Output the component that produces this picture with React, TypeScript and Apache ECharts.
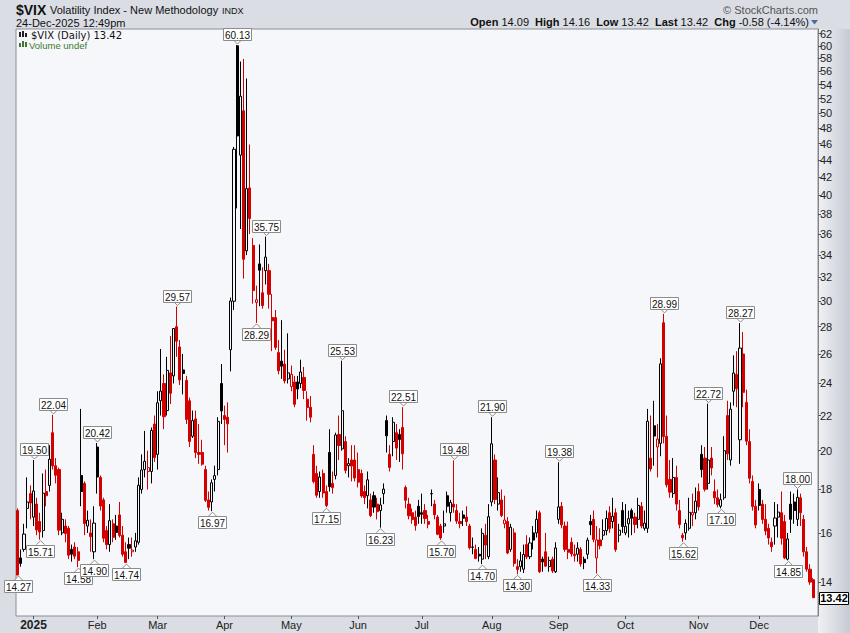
import React, { useEffect, useRef } from 'react';
import * as echarts from 'echarts';

// ---------- data ----------
const startDates = ['2024-12-24', '2024-12-26', '2024-12-27', '2024-12-30', '2024-12-31'];
const holidays2025 = ['2025-01-01', '2025-01-09', '2025-01-20', '2025-02-17', '2025-04-18', '2025-05-26', '2025-06-19', '2025-07-04', '2025-09-01', '2025-11-27'];
const prevCloseBeforeStart = 16.78;

const opens = [
  17.0, 14.95, 15.3, 17.1, 17.8, 16.7, 17.3, 16.5, 16.1, 17.9,
  18.2, 21.0, 19.2, 19.0, 16.0, 16.3, 16.2, 15.3, 15.4, 15.2,
  18.7, 18.3, 16.3, 16.0, 15.2, 20.2, 18.6, 17.5, 16.1, 15.5,
  16.4, 16.3, 16.8, 15.9, 15.2, 15.5, 15.2, 15.4, 15.6, 18.0,
  19.0, 18.9, 18.9, 21.5, 19.8, 22.9, 24.0, 22.3, 24.7, 24.5,
  28.0, 26.5, 24.9, 24.2, 22.9, 20.8, 21.8, 19.9, 19.9, 19.0,
  17.5, 17.4, 18.5, 19.0, 24.0, 22.0, 21.9, 26.3, 30.0, 60.0,
  44.6, 50.3, 34.4, 40.8, 34.9, 29.9, 33.2, 30.7, 32.6, 32.6,
  28.7, 28.7, 26.1, 25.5, 25.3, 24.3, 23.8, 24.1, 24.1, 24.0,
  24.4, 23.0, 22.5, 19.8, 18.8, 17.9, 18.8, 17.9, 19.9, 18.3,
  18.7, 20.9, 20.1, 20.5, 19.2, 19.5, 19.5, 19.0, 18.8, 17.9,
  17.7, 17.5, 17.7, 17.3, 17.0, 17.8, 21.7, 19.8, 20.5, 21.0,
  20.9, 21.3, 18.1, 17.3, 16.9, 16.7, 17.2, 16.9, 17.0, 16.5,
  17.8, 17.3, 16.7, 16.3, 16.3, 17.7, 16.9, 17.3, 17.0, 16.5,
  16.8, 16.7, 16.3, 15.4, 15.3, 15.1, 14.9, 15.9, 15.0, 17.4,
  19.5, 17.3, 17.5, 16.4, 16.5, 15.3, 16.0, 14.6, 14.6, 14.5,
  15.5, 15.0, 16.0, 16.0, 16.9, 14.9, 15.2, 14.6, 14.9, 14.4,
  16.6, 17.2, 16.3, 15.3, 15.6, 15.1, 15.1, 15.3, 14.9, 15.1,
  16.5, 16.6, 14.95, 15.7, 15.9, 16.1, 16.9, 16.5, 16.9, 15.9,
  17.0, 16.0, 16.4, 17.0, 16.7, 16.6, 17.2, 16.2, 16.2, 19.6,
  21.4, 20.2, 20.4, 28.3, 20.8, 18.5, 17.8, 18.6, 17.0, 15.9,
  16.0, 16.2, 16.8, 16.9, 17.9, 19.8, 19.6, 18.3, 19.6, 17.9,
  17.6, 17.2, 17.6, 22.0, 19.5, 23.5, 24.6, 20.6, 26.0, 22.8,
  20.5, 18.4, 17.2, 18.0, 17.3, 16.6, 16.2, 15.6, 16.3, 16.7,
  16.9, 16.5, 14.9, 17.3, 17.4, 16.6, 17.6, 16.6, 15.2, 14.5,
  14.09,
];
const highs = [
  17.1, 15.3, 16.4, 18.6, 18.2, 19.5, 17.6, 16.9, 18.8, 19.0,
  20.3, 22.04, 19.6, 19.1, 16.9, 16.6, 16.3, 15.5, 15.6, 15.4,
  22.4, 18.4, 17.0, 16.6, 17.2, 20.42, 18.7, 17.6, 16.3, 17.3,
  16.6, 16.8, 17.4, 16.3, 15.6, 15.8, 15.8, 16.0, 18.6, 19.8,
  21.1, 20.0, 21.3, 22.0, 23.5, 26.35, 24.6, 25.8, 27.3, 27.9,
  29.57, 27.0, 26.0, 24.5, 23.1, 22.3, 22.3, 21.5, 20.6, 19.2,
  17.9, 18.5, 19.2, 21.9, 25.3, 22.6, 22.8, 30.3, 45.6, 60.13,
  57.5, 57.9, 54.9, 45.9, 35.6, 31.3, 35.0, 32.9, 35.75, 33.2,
  30.6, 29.3, 27.0, 28.5, 26.3, 27.5, 25.2, 24.5, 24.5, 25.6,
  25.1, 23.5, 23.2, 20.3, 19.2, 18.9, 19.0, 18.2, 21.2, 18.9,
  21.0, 22.0, 25.53, 20.8, 19.6, 20.3, 20.3, 19.9, 19.0, 18.2,
  18.9, 17.8, 17.9, 17.6, 17.6, 18.3, 22.0, 20.3, 21.9, 21.5,
  21.2, 22.51, 18.2, 17.6, 17.1, 17.0, 17.5, 17.8, 17.3, 16.8,
  18.0, 17.5, 16.8, 16.4, 17.0, 17.9, 17.5, 19.48, 17.3, 16.9,
  17.0, 17.2, 16.4, 15.8, 15.5, 15.4, 16.2, 16.4, 17.3, 21.9,
  19.8, 18.6, 18.0, 17.7, 16.7, 16.4, 16.2, 14.9, 15.2, 15.5,
  15.9, 15.8, 16.3, 17.0, 17.0, 15.0, 16.0, 15.0, 15.0, 15.6,
  19.38, 17.4, 16.5, 16.5, 15.8, 15.5, 15.6, 15.4, 15.0, 15.8,
  16.8, 17.0, 16.3, 16.2, 16.6, 17.0, 17.2, 17.6, 17.1, 16.4,
  17.4, 17.3, 17.0, 17.1, 16.9, 17.6, 17.4, 17.0, 22.4, 22.0,
  22.9, 21.5, 25.7, 28.99, 22.0, 19.5, 19.6, 19.2, 17.5, 16.0,
  16.6, 17.6, 17.8, 18.1, 18.3, 20.3, 20.2, 22.72, 20.2, 18.5,
  18.0, 17.8, 20.8, 22.9, 22.8, 25.9, 26.2, 28.27, 27.6, 23.6,
  21.2, 18.7, 17.5, 18.3, 17.5, 17.3, 16.4, 15.8, 17.4, 17.3,
  17.9, 16.8, 16.0, 17.9, 17.8, 18.0, 17.8, 16.8, 15.4, 14.7,
  14.16,
];
const lows = [
  14.27, 14.6, 15.2, 16.2, 16.6, 16.3, 15.9, 15.71, 15.8, 17.2,
  17.9, 19.0, 18.3, 15.9, 15.9, 15.6, 14.9, 14.8, 14.9, 14.58,
  17.2, 15.9, 16.0, 15.2, 14.9, 17.8, 17.0, 15.6, 15.3, 15.2,
  15.6, 15.7, 15.8, 15.0, 14.74, 14.9, 15.0, 15.2, 15.5, 17.8,
  18.6, 18.0, 18.3, 19.4, 19.0, 22.0, 21.2, 22.0, 22.7, 24.0,
  25.8, 23.9, 23.3, 21.5, 20.2, 20.7, 19.6, 19.3, 19.2, 17.4,
  17.0, 16.97, 17.9, 18.7, 21.5, 20.3, 19.9, 24.8, 29.3, 38.6,
  36.5, 31.9, 34.0, 36.0, 29.8, 28.29, 29.6, 29.4, 31.4, 29.4,
  26.2, 26.3, 24.6, 24.3, 24.0, 24.0, 23.5, 22.5, 23.0, 23.7,
  23.0, 21.7, 21.6, 18.3, 17.6, 17.6, 17.6, 17.15, 17.9, 17.8,
  18.5, 19.5, 20.0, 18.8, 18.6, 18.4, 18.4, 18.1, 17.6, 17.3,
  17.1, 16.7, 16.9, 16.6, 16.23, 17.3, 19.9, 18.9, 19.7, 19.5,
  19.4, 19.0, 17.1, 16.6, 16.4, 16.1, 16.4, 16.4, 16.4, 16.2,
  17.2, 16.6, 15.9, 15.7, 16.0, 16.9, 16.5, 16.9, 16.4, 16.2,
  16.3, 16.3, 15.3, 15.1, 14.9, 14.8, 14.7, 14.9, 14.9, 17.2,
  17.3, 17.0, 16.7, 16.2, 15.1, 15.2, 14.6, 14.3, 14.4, 14.35,
  14.9, 14.9, 15.3, 15.8, 14.35, 14.4, 14.6, 14.4, 14.35, 14.35,
  16.4, 16.2, 15.2, 14.9, 15.0, 14.8, 14.8, 14.6, 14.5, 14.9,
  15.9, 15.6, 14.33, 15.3, 15.7, 15.9, 16.0, 16.2, 15.2, 15.6,
  16.0, 15.9, 15.8, 15.9, 16.0, 16.2, 16.2, 16.1, 16.0, 18.9,
  19.2, 18.6, 19.7, 20.4, 18.1, 17.6, 17.6, 17.0, 16.2, 15.62,
  15.7, 16.1, 16.3, 16.6, 17.0, 18.6, 17.9, 18.0, 18.7, 17.3,
  17.15, 17.1, 17.5, 19.5, 19.2, 22.6, 22.5, 19.3, 22.5, 20.3,
  18.3, 17.0, 16.2, 17.0, 16.4, 15.9, 15.5, 15.2, 15.5, 15.8,
  15.5, 14.9, 14.85, 16.0, 16.4, 16.3, 16.3, 15.0, 14.4, 13.9,
  13.42,
];
const closes = [
  14.27, 14.73, 15.95, 17.40, 17.35, 17.93, 16.13, 16.04, 17.82, 17.70,
  19.54, 19.19, 18.71, 16.12, 16.60, 15.97, 15.06, 15.10, 15.02, 14.85,
  17.90, 16.41, 16.56, 15.84, 16.43, 18.62, 17.21, 15.77, 15.50, 16.54,
  15.81, 16.02, 15.89, 15.10, 14.77, 15.35, 15.27, 15.66, 18.21, 18.98,
  19.43, 19.10, 21.13, 19.63, 22.78, 23.51, 21.93, 24.87, 23.37, 27.86,
  26.92, 24.23, 24.66, 21.77, 20.51, 21.70, 19.90, 19.80, 19.28, 17.48,
  17.15, 18.33, 18.69, 21.65, 22.28, 21.77, 21.51, 30.02, 45.31, 46.98,
  52.33, 33.62, 40.72, 37.56, 30.89, 30.12, 32.64, 29.65, 33.82, 30.57,
  28.45, 26.47, 24.84, 25.15, 24.17, 24.70, 24.60, 22.68, 23.64, 24.76,
  23.55, 22.48, 21.90, 18.39, 17.72, 18.62, 17.83, 17.24, 18.14, 18.09,
  20.87, 20.28, 22.29, 18.96, 19.31, 19.18, 18.57, 18.36, 17.69, 17.61,
  18.48, 16.77, 17.16, 16.95, 17.26, 18.02, 20.82, 19.11, 21.60, 20.14,
  20.62, 19.83, 17.48, 16.76, 16.59, 16.32, 16.73, 16.83, 16.64, 16.38,
  17.79, 16.81, 15.94, 15.78, 16.40, 17.20, 17.38, 17.16, 16.52, 16.41,
  16.65, 16.50, 15.37, 15.39, 14.93, 15.03, 15.98, 15.48, 16.72, 20.38,
  17.52, 17.85, 16.77, 16.57, 15.15, 16.25, 14.73, 14.49, 14.83, 15.09,
  14.99, 15.57, 15.69, 16.60, 14.40, 14.79, 14.62, 14.85, 14.43, 15.36,
  17.17, 16.35, 15.30, 15.18, 15.11, 15.04, 15.35, 14.71, 14.76, 15.69,
  16.36, 15.72, 15.70, 15.45, 16.10, 16.64, 16.18, 16.74, 15.29, 16.12,
  16.28, 16.29, 16.63, 16.65, 16.37, 17.24, 16.30, 16.43, 21.66, 19.03,
  20.81, 20.64, 25.31, 20.78, 18.23, 17.87, 18.60, 17.30, 16.37, 15.79,
  16.42, 16.92, 16.91, 17.44, 17.17, 19.00, 18.01, 19.50, 19.08, 17.60,
  17.28, 17.51, 20.00, 19.83, 22.38, 24.69, 23.66, 26.42, 23.43, 20.52,
  18.56, 17.19, 16.35, 17.24, 16.59, 16.08, 15.78, 15.41, 16.66, 16.93,
  15.77, 14.95, 15.74, 16.60, 17.00, 17.62, 16.90, 15.20, 14.50, 14.00,
  13.42,
];

// swing labels: index, value, +1 = high (box above), -1 = low (box below)
const peakIndex = [5, 11, 25, 50, 69, 78, 102, 121, 137, 149, 170, 203, 217, 227, 245,
  0, 7, 19, 24, 34, 61, 75, 97, 114, 133, 146, 157, 182, 209, 221, 242];
const peakValue = [19.5, 22.04, 20.42, 29.57, 60.13, 35.75, 25.53, 22.51, 19.48, 21.9, 19.38, 28.99, 22.72, 28.27, 18.0,
  14.27, 15.71, 14.58, 14.9, 14.74, 16.97, 28.29, 17.15, 16.23, 15.7, 14.7, 14.3, 14.33, 15.62, 17.1, 14.85];
const peakSide = [1, 1, 1, 1, 1, 1, 1, 1, 1, 1, 1, 1, 1, 1, 1,
  -1, -1, -1, -1, -1, -1, -1, -1, -1, -1, -1, -1, -1, -1, -1, -1];

const yTickValues = [14, 16, 18, 20, 22, 24, 26, 28, 30, 32, 34, 36, 38, 40, 42, 44, 46, 48, 50, 52, 54, 56, 58, 60, 62];
const yMinValue = 12.77;
const yMaxValue = 62.8;
const lastValue = 13.42;
const monthNames = ['Jan', 'Feb', 'Mar', 'Apr', 'May', 'Jun', 'Jul', 'Aug', 'Sep', 'Oct', 'Nov', 'Dec'];

function buildDates(): string[] {
  const out = [...startDates];
  const d = new Date(Date.UTC(2025, 0, 1));
  const end = Date.UTC(2025, 11, 24);
  while (d.getTime() <= end) {
    const wd = d.getUTCDay();
    const s = d.toISOString().slice(0, 10);
    if (wd !== 0 && wd !== 6 && holidays2025.indexOf(s) < 0) out.push(s);
    d.setUTCDate(d.getUTCDate() + 1);
  }
  return out;
}

const RED = '#d40000';
const BLACK = '#000000';
const PLOT_BG = '#f6f7fa';
const FONT = '"Liberation Sans", Arial, sans-serif';

export default function App() {
  const ref = useRef<HTMLDivElement>(null);
  useEffect(() => {
    if (!ref.current) return;
    const chart = echarts.init(ref.current, undefined, { renderer: 'svg' });
    const dates = buildDates();
    const cats = [...dates, ''];
    const monthStart = new Set<number>();
    for (let i = 1; i < dates.length; i++) {
      if (dates[i].slice(5, 7) !== dates[i - 1].slice(5, 7)) monthStart.add(i);
    }
    const L = Math.log;
    const candleData = closes.map((c, i) => {
      const o = opens[i];
      const prev = i > 0 ? closes[i - 1] : prevCloseBeforeStart;
      const col = c >= prev ? BLACK : RED;
      const hollow = c > o;
      const fill = hollow ? PLOT_BG : col;
      return {
        value: [L(o), L(c), L(lows[i]), L(highs[i])],
        itemStyle: { color: fill, color0: fill, borderColor: col, borderColor0: col },
      };
    });
    const peakData = peakIndex.map((idx, k) => [idx, L(peakValue[k]), peakSide[k]]);

    const option: any = {
      animation: false,
      backgroundColor: '#dadde4',
      textStyle: { fontFamily: FONT },
      grid: {
        left: 16, right: 32, top: 29, bottom: 17, show: true,
        backgroundColor: PLOT_BG, borderColor: '#8a8d96', borderWidth: 1,
      },
      xAxis: {
        type: 'category', data: cats, boundaryGap: true,
        axisLine: { show: false },
        axisTick: { show: true, alignWithLabel: true, interval: (i: number) => monthStart.has(i), length: 3, lineStyle: { color: '#555' } },
        axisLabel: {
          interval: (i: number) => monthStart.has(i),
          margin: 3, color: '#222', fontSize: 11, fontFamily: FONT,
          formatter: (v: string) => {
            if (!v) return '';
            const m = parseInt(v.slice(5, 7), 10) - 1;
            if (m === 0) return '{y|' + v.slice(0, 4) + '}';
            return monthNames[m];
          },
          rich: { y: { fontWeight: 'bold', fontSize: 12, color: '#222', fontFamily: FONT } },
        },
        splitLine: { show: false },
      },
      yAxis: {
        type: 'value', position: 'right', min: L(yMinValue), max: L(yMaxValue),
        splitLine: { show: false },
        axisLine: { show: true, lineStyle: { color: '#777', type: 'dotted' } },
        axisTick: { show: true, customValues: yTickValues.map(L), length: 3, lineStyle: { color: '#555' } },
        axisLabel: {
          customValues: yTickValues.map(L), margin: 2, color: '#222', fontSize: 11, fontFamily: FONT,
          formatter: (v: number) => String(Math.round(Math.exp(v))),
        },
      },
      series: [
        {
          type: 'candlestick', data: candleData, barWidth: 2.6,
          itemStyle: { borderWidth: 1 },
        },
        {
          type: 'custom', data: peakData, clip: false, silent: true, z: 10,
          renderItem: (params: any, api: any) => {
            const idx = api.value(0);
            const lv = api.value(1);
            const side = api.value(2);
            const p = api.coord([idx, lv]);
            const txt = peakValue[params.dataIndex].toFixed(2);
            const w = 28, h = 12;
            const x = Math.round(p[0]) + 0.5;
            let boxTop: number, baseY: number, tipY: number;
            if (side > 0) {
              tipY = p[1] - 1; baseY = p[1] - 5; boxTop = baseY - h;
            } else {
              tipY = p[1] + 1; baseY = p[1] + 5; boxTop = baseY;
            }
            return {
              type: 'group',
              children: [
                { type: 'polyline', shape: { points: [[x - 4, baseY], [x, tipY], [x + 4, baseY]] }, style: { stroke: '#8c8c8c', fill: '#ffffff', lineWidth: 1 } },
                { type: 'rect', shape: { x: x - w / 2, y: Math.round(boxTop) + 0.5, width: w, height: h }, style: { fill: '#ffffff', stroke: '#8c8c8c', lineWidth: 1 } },
                { type: 'text', x: x, y: Math.round(boxTop) + 0.5 + h / 2 + 0.5, style: { text: txt, fill: '#111', font: '10px ' + FONT, align: 'center', verticalAlign: 'middle', textAlign: 'center', textVerticalAlign: 'middle' } },
              ],
            };
          },
        },
        {
          type: 'custom', data: [[cats.length - 1, L(lastValue)]], clip: false, silent: true, z: 11,
          renderItem: (params: any, api: any) => {
            const p = api.coord([api.value(0), api.value(1)]);
            const cs = params.coordSys;
            const xr = cs.x + cs.width;
            return {
              type: 'group',
              children: [
                { type: 'rect', shape: { x: xr + 1.5, y: Math.round(p[1] - 6) + 0.5, width: 29, height: 12 }, style: { fill: '#ffffff', stroke: '#000', lineWidth: 1 } },
                { type: 'text', x: xr + 16, y: p[1] + 0.5, style: { text: lastValue.toFixed(2), fill: '#000', font: 'bold 11px ' + FONT, align: 'center', verticalAlign: 'middle', textAlign: 'center', textVerticalAlign: 'middle' } },
              ],
            };
          },
        },
      ],
      graphic: [
        {
          type: 'rect', z: -10, silent: true, shape: { x: 818, y: 29, width: 32, height: 604 },
          style: { fill: new echarts.graphic.LinearGradient(0, 0, 1, 0, [{ offset: 0, color: '#f0f1f4' }, { offset: 1, color: '#c6cad3' }]) },
        },
        { type: 'text', x: 16, y: 10, style: { text: '$VIX', font: 'bold 14px ' + FONT, fill: '#111', verticalAlign: 'middle', textVerticalAlign: 'middle' } },
        { type: 'text', x: 50, y: 10, style: { text: 'Volatility Index - New Methodology', font: '11px ' + FONT, fill: '#111', verticalAlign: 'middle', textVerticalAlign: 'middle' } },
        { type: 'text', x: 222, y: 10.5, style: { text: 'INDX', font: '9px ' + FONT, fill: '#111', verticalAlign: 'middle', textVerticalAlign: 'middle' } },
        { type: 'text', x: 16, y: 23, style: { text: '24-Dec-2025 12:49pm', font: '11px ' + FONT, fill: '#111', verticalAlign: 'middle', textVerticalAlign: 'middle' } },
        { type: 'text', x: 818, y: 10, style: { text: '\u00a9 StockCharts.com', font: '11px ' + FONT, fill: '#555', align: 'right', textAlign: 'right', verticalAlign: 'middle', textVerticalAlign: 'middle' } },
        {
          type: 'text', x: 809, y: 22,
          style: {
            text: '{b|Open} 14.09  {b|High} 14.16  {b|Low} 13.42  {b|Last} 13.42  {b|Chg} -0.58 (-4.14%)',
            font: '11px ' + FONT, fill: '#111', align: 'right', textAlign: 'right', verticalAlign: 'middle', textVerticalAlign: 'middle',
            rich: { b: { fontWeight: 'bold', fontSize: 11, fontFamily: FONT, fill: '#111', color: '#111' } },
          },
        },
        { type: 'polygon', shape: { points: [[811, 20], [818, 20], [814.5, 24.5]] }, style: { fill: '#4b6aa0' } },
        // legend icons
        { type: 'rect', shape: { x: 19, y: 32, width: 2, height: 5 }, style: { fill: '#222' } },
        { type: 'rect', shape: { x: 22, y: 31, width: 2, height: 6 }, style: { fill: '#222' } },
        { type: 'rect', shape: { x: 25, y: 33, width: 2, height: 4 }, style: { fill: '#222' } },
        { type: 'text', x: 31, y: 35, style: { text: '$VIX (Daily) 13.42', font: '10px "DejaVu Sans", sans-serif', fill: '#111', verticalAlign: 'middle', textVerticalAlign: 'middle' } },
        { type: 'rect', shape: { x: 19, y: 43, width: 2, height: 4 }, style: { fill: '#3b7a2e' } },
        { type: 'rect', shape: { x: 22, y: 41, width: 2, height: 6 }, style: { fill: '#3b7a2e' } },
        { type: 'rect', shape: { x: 25, y: 42, width: 2, height: 5 }, style: { fill: '#3b7a2e' } },
        { type: 'text', x: 29, y: 45.5, style: { text: 'Volume undef', font: '9.5px ' + FONT, fill: '#3b7a2e', verticalAlign: 'middle', textVerticalAlign: 'middle' } },
      ],
    };
    chart.setOption(option);
    return () => chart.dispose();
  }, []);
  return <div ref={ref} style={{ position: 'fixed', left: 0, top: 0, width: 850, height: 633 }} />;
}
